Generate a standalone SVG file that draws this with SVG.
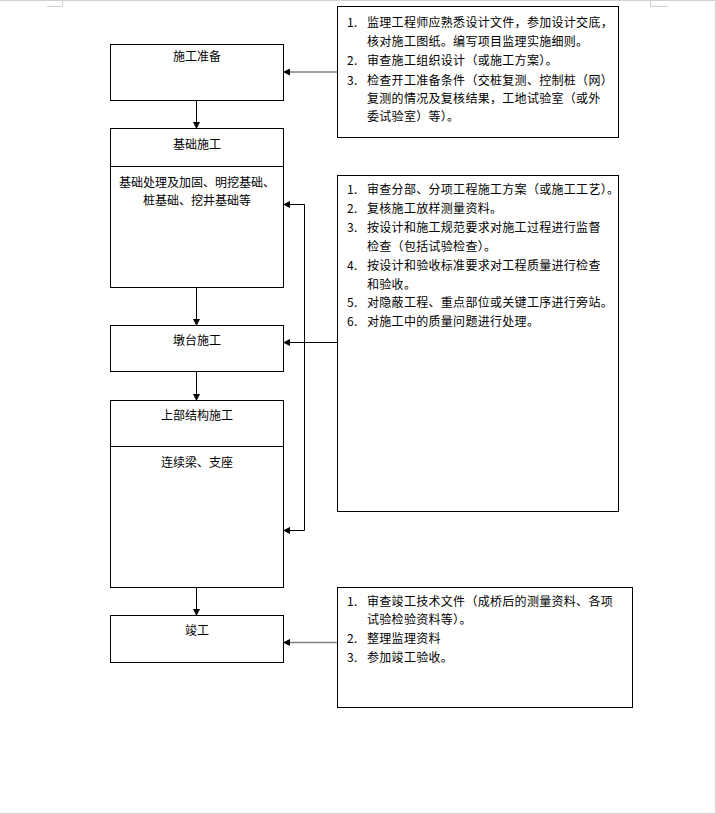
<svg xmlns="http://www.w3.org/2000/svg" width="716" height="814" viewBox="0 0 716 814">
<style>
text{font-family:"Noto Sans CJK SC","Liberation Sans",sans-serif;font-size:12px;fill:#000;dominant-baseline:central}
.c{text-anchor:middle}
.r text{letter-spacing:0.3px}
.box{fill:#fff;stroke:#000;stroke-width:1}
.ln{fill:none;stroke:#000;stroke-width:1}
.gl{fill:none;stroke:#808080;stroke-width:1.5}
.pg{fill:none;stroke:#d0d0d0;stroke-width:1}
</style>
<defs>
<marker id="ah" markerWidth="7" markerHeight="7" refX="6" refY="3.5" orient="auto" markerUnits="userSpaceOnUse">
<path d="M0,0 L7,3.5 L0,7 Z" fill="#000"/>
</marker>
</defs>
<rect width="716" height="814" fill="#fff"/>
<g id="page">
<path class="pg" d="M0,0.5 H715.5 V813.5 H0"/>
<path class="pg" d="M47,6.5 H62.5 V0"/>
<path class="pg" d="M668,6.5 H650.5 V0"/>
</g>
<g id="n1">
<rect class="box" x="110.5" y="44.5" width="173" height="56"/>
<text class="c" x="197" y="55">施工准备</text>
</g>
<g id="n2">
<rect class="box" x="110.5" y="128.5" width="173" height="159"/>
<line class="ln" x1="110.5" y1="166.5" x2="283.5" y2="166.5"/>
<text class="c" x="197" y="143">基础施工</text>
<text class="c" x="197" y="181">基础处理及加固、明挖基础、</text>
<text class="c" x="197" y="199">桩基础、挖井基础等</text>
</g>
<g id="n3">
<rect class="box" x="110.5" y="325.5" width="173" height="46"/>
<text class="c" x="197" y="339">墩台施工</text>
</g>
<g id="n4">
<rect class="box" x="110.5" y="400.5" width="173" height="187"/>
<line class="ln" x1="110.5" y1="446.5" x2="283.5" y2="446.5"/>
<text class="c" x="197" y="414">上部结构施工</text>
<text class="c" x="197" y="461">连续梁、支座</text>
</g>
<g id="n5">
<rect class="box" x="110.5" y="615.5" width="173" height="47"/>
<text class="c" x="197" y="629">竣工</text>
</g>
<g id="r1" class="r">
<rect class="box" x="337.5" y="6.5" width="281" height="131"/>
<text x="347" y="21">1.</text><text x="367" y="21">监理工程师应熟悉设计文件，参加设计交底，</text>
<text x="367" y="40">核对施工图纸。编写项目监理实施细则。</text>
<text x="347" y="59">2.</text><text x="367" y="59">审查施工组织设计（或施工方案）。</text>
<text x="347" y="79">3.</text><text x="367" y="79">检查开工准备条件（交桩复测、控制桩（网）</text>
<text x="367" y="97">复测的情况及复核结果，工地试验室（或外</text>
<text x="367" y="115">委试验室）等）。</text>
</g>
<g id="r2" class="r">
<rect class="box" x="337.5" y="175.5" width="281" height="336"/>
<text x="347" y="188">1.</text><text x="367" y="188">审查分部、分项工程施工方案（或施工工艺）。</text>
<text x="347" y="207">2.</text><text x="367" y="207">复核施工放样测量资料。</text>
<text x="347" y="226.5">3.</text><text x="367" y="226.5">按设计和施工规范要求对施工过程进行监督</text>
<text x="367" y="245.5">检查（包括试验检查）。</text>
<text x="347" y="264">4.</text><text x="367" y="264">按设计和验收标准要求对工程质量进行检查</text>
<text x="367" y="283">和验收。</text>
<text x="347" y="301.5">5.</text><text x="367" y="301.5">对隐蔽工程、重点部位或关键工序进行旁站。</text>
<text x="347" y="320.5">6.</text><text x="367" y="320.5">对施工中的质量问题进行处理。</text>
</g>
<g id="r3" class="r">
<rect class="box" x="337.5" y="587.5" width="295" height="120"/>
<text x="347" y="600">1.</text><text x="367" y="600">审查竣工技术文件（成桥后的测量资料、各项</text>
<text x="367" y="618.5">试验检验资料等）。</text>
<text x="347" y="637.5">2.</text><text x="367" y="637.5">整理监理资料</text>
<text x="347" y="656.5">3.</text><text x="367" y="656.5">参加竣工验收。</text>
</g>
<g id="connectors">
<line class="ln" x1="196.5" y1="100.5" x2="196.5" y2="128" marker-end="url(#ah)"/>
<line class="ln" x1="196.5" y1="287.5" x2="196.5" y2="325" marker-end="url(#ah)"/>
<line class="ln" x1="196.5" y1="371.5" x2="196.5" y2="400" marker-end="url(#ah)"/>
<line class="ln" x1="196.5" y1="587.5" x2="196.5" y2="615" marker-end="url(#ah)"/>
<line class="gl" x1="337.5" y1="72" x2="284" y2="72" marker-end="url(#ah)"/>
<line class="ln" x1="337.5" y1="342.5" x2="284" y2="342.5" marker-end="url(#ah)"/>
<path class="ln" d="M284,204.5 H304.5 V530.5 H284"/>
<line class="ln" x1="290" y1="204.5" x2="284" y2="204.5" marker-end="url(#ah)"/>
<line class="ln" x1="290" y1="530.5" x2="284" y2="530.5" marker-end="url(#ah)"/>
<line class="gl" x1="337.5" y1="642.5" x2="284" y2="642.5" marker-end="url(#ah)"/>
</g>
</svg>
